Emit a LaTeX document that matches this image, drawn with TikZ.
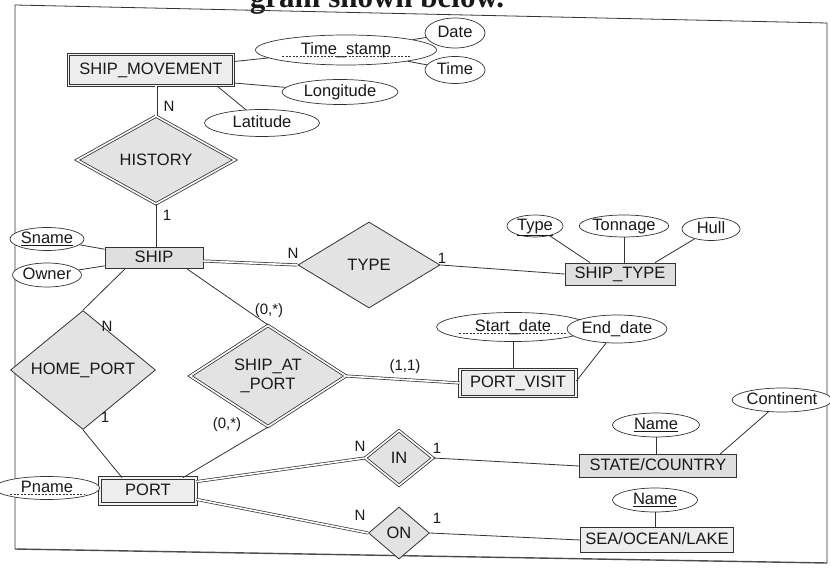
\documentclass[tikz,border=0pt]{standalone}
\usepackage{fontspec}
\setmainfont{Liberation Sans}
\newfontfamily\titlefont{Liberation Serif}
\usetikzlibrary{shapes.geometric}
\newcommand{\dashul}[1]{\tikz[baseline=(dtxt.base)]{\node[inner sep=0pt, outer sep=0pt] (dtxt) {#1}; \draw[black!80, line width=0.5pt, dash pattern=on 2pt off 1.5pt] ([yshift=-2.2pt]dtxt.base west) -- ([yshift=-2.2pt]dtxt.base east);}}
\begin{document}
\begin{tikzpicture}[x=1pt,y=-1pt,
  every node/.style={font=\fontsize{16.5}{18}\selectfont, text=black!90},
  ent/.style={draw=black!80, fill=gray!25, line width=0.8pt, rectangle, inner sep=0pt, text height=11.5pt, text depth=3pt},
  went/.style={ent, fill=gray!14, double=gray!8, double distance=1.6pt},
  attr/.style={draw=black!80, ellipse, line width=0.7pt, inner sep=0pt, fill=white, text height=11.5pt, text depth=3pt},
  rel/.style={draw=black!80, diamond, fill=gray!22, line width=0.8pt, inner sep=0pt},
  wrel/.style={rel, double=white, double distance=1.6pt},
  conn/.style={draw=black!80, line width=0.8pt},
  dconn/.style={draw=black!80, line width=0.7pt, double=white, double distance=1.6pt},
  card/.style={font=\fontsize{15}{16}\selectfont, inner sep=0pt}
]
\useasboundingbox (0,0) rectangle (830,569);
\fill[white] (0,0) rectangle (830,569);
% clipped title line
\begin{scope}
\clip (0,0) rectangle (830,569);
\node[font=\titlefont\bfseries\fontsize{31}{33}\selectfont, anchor=base, inner sep=0pt] (title) at (377,8) {gram shown below.};
\end{scope}
% frame
\draw[black!80, line width=0.8pt] (15,549) -- (15,5) -- (827,23) -- (827,563);
\draw[black!70, line width=1.4pt] (15,549) -- (827,563);

% entities
\node[went, minimum width=165, minimum height=31] (sm) at (151,70) {SHIP\_MOVEMENT};
\node[ent, minimum width=98, minimum height=21] (ship) at (154,258) {SHIP};
\node[ent, minimum width=110, minimum height=22] (shiptype) at (620,274) {SHIP\_TYPE};
\node[went, minimum width=116, minimum height=27] (pv) at (518,383) {PORT\_VISIT};
\node[went, minimum width=96, minimum height=26] (port) at (148,491) {PORT};
\node[ent, minimum width=157, minimum height=23] (state) at (658,466) {STATE/COUNTRY};
\node[ent, fill=gray!14, minimum width=153, minimum height=25] (sea) at (657,540) {SEA/OCEAN/LAKE};

% relationships
\node[wrel, minimum width=158, minimum height=88] (history) at (156,160) {HISTORY};
\node[rel, minimum width=142, minimum height=86] (type) at (369,265) {TYPE};
\node[rel, minimum width=145, minimum height=83] (homeport) at (83,370) {HOME\_PORT};
\node[wrel, minimum width=156, minimum height=89, align=center, font=\fontsize{16.5}{19}\selectfont] (sap) at (268,376) {SHIP\_AT\\\_PORT};
\node[wrel, minimum width=68, minimum height=55] (in) at (399,458) {IN};
\node[rel, minimum width=61, minimum height=52] (on) at (399,533) {ON};

% attributes
\node[attr, minimum width=125, minimum height=30] (ts) at (346,50) {\dashul{Time\_stamp}};
\node[attr, minimum width=60, minimum height=30] (date) at (455,33) {Date};
\node[attr, minimum width=60, minimum height=27] (time) at (455,70) {Time};
\node[attr, minimum width=116, minimum height=25] (long) at (340,92) {Longitude};
\node[attr, minimum width=115, minimum height=27] (lat) at (262,123) {Latitude};
\node[attr, minimum width=69, minimum height=23] (sname) at (47,239) {\underline{Sname}};
\node[attr, minimum width=69, minimum height=24] (owner) at (47,275) {Owner};
\node[attr, minimum width=56, minimum height=22] (ttype) at (535,226) {\underline{Type}};
\node[attr, minimum width=85, minimum height=22] (tonnage) at (624,226) {Tonnage};
\node[attr, minimum width=58, minimum height=23] (hull) at (711,229) {Hull};
\node[attr, minimum width=107, minimum height=29] (sd) at (513,327) {\dashul{Start\_date}};
\node[attr, minimum width=83, minimum height=28] (ed) at (617,329) {End\_date};
\node[attr, minimum width=60, minimum height=23] (pname) at (47,488) {\dashul{Pname}};
\node[attr, minimum width=87, minimum height=24] (cont) at (782,400) {Continent};
\node[attr, minimum width=87, minimum height=24] (name1) at (656,425) {\underline{Name}};
\node[attr, minimum width=85, minimum height=24] (name2) at (655,500) {\underline{Name}};

% attribute connectors
\draw[conn] (sm) -- (ts);
\draw[conn] (ts) -- (date);
\draw[conn] (ts) -- (time);
\draw[conn] ([yshift=-13pt]sm.east) -- (long);
\draw[conn] ([xshift=-17pt]sm.south east) -- (lat);
\draw[conn] (sname) -- (ship);
\draw[conn] (owner) -- (ship);
\draw[conn] (ttype) -- ([xshift=-30pt]shiptype.north);
\draw[conn] (tonnage.south) -- (tonnage.south |- shiptype.north);
\draw[conn] (hull) -- ([xshift=35pt]shiptype.north);
\draw[conn] (sd.south) -- (sd.south |- pv.north);
\draw[conn] (ed) -- ([yshift=2pt]pv.east);
\draw[conn] (pname) -- (port.west);
\draw[conn] (name1.south) -- (name1.south |- state.north);
\draw[conn] (cont) -- ([xshift=62pt]state.north);
\draw[conn] (name2.south) -- (name2.south |- sea.north);

% relationship connectors
\draw[dconn] ([xshift=5pt]sm.south) -- (history.north);
\draw[conn] (history.south) -- (history.south |- ship.north);
\draw[dconn] ([yshift=-3pt]ship.east) -- (type.west);
\draw[conn] (type.east) -- (shiptype.west);
\draw[conn] ([xshift=-29pt]ship.south) -- (homeport.north);
\draw[conn] ([xshift=33pt]ship.south) -- (sap.north);
\draw[dconn] (sap.east) -- (pv.west);
\draw[conn] (homeport.south) -- ([xshift=-26pt]port.north);
\draw[conn] (sap.south) -- ([xshift=35pt]port.north);
\draw[dconn] ([yshift=-4pt]port.north east) -- (in.west);
\draw[dconn] ([yshift=5pt]port.south east) -- (on.west);
\draw[conn] (in.east) -- (state.west);
\draw[conn] (on.east) -- (sea.west);

% cardinalities
\node[card] (c1) at (169,106) {N};
\node[card] (c2) at (167,215) {1};
\node[card] (c3) at (293,253) {N};
\node[card] (c4) at (442,258) {1};
\node[card] (c5) at (269,311) {(0,*)};
\node[card] (c6) at (107,326) {N};
\node[card] (c7) at (405,367) {(1,1)};
\node[card] (c8) at (105,417) {1};
\node[card] (c9) at (227,425) {(0,*)};
\node[card] (c10) at (360,446) {N};
\node[card] (c11) at (437,448) {1};
\node[card] (c12) at (360,515) {N};
\node[card] (c13) at (437,518) {1};
\end{tikzpicture}
\end{document}
